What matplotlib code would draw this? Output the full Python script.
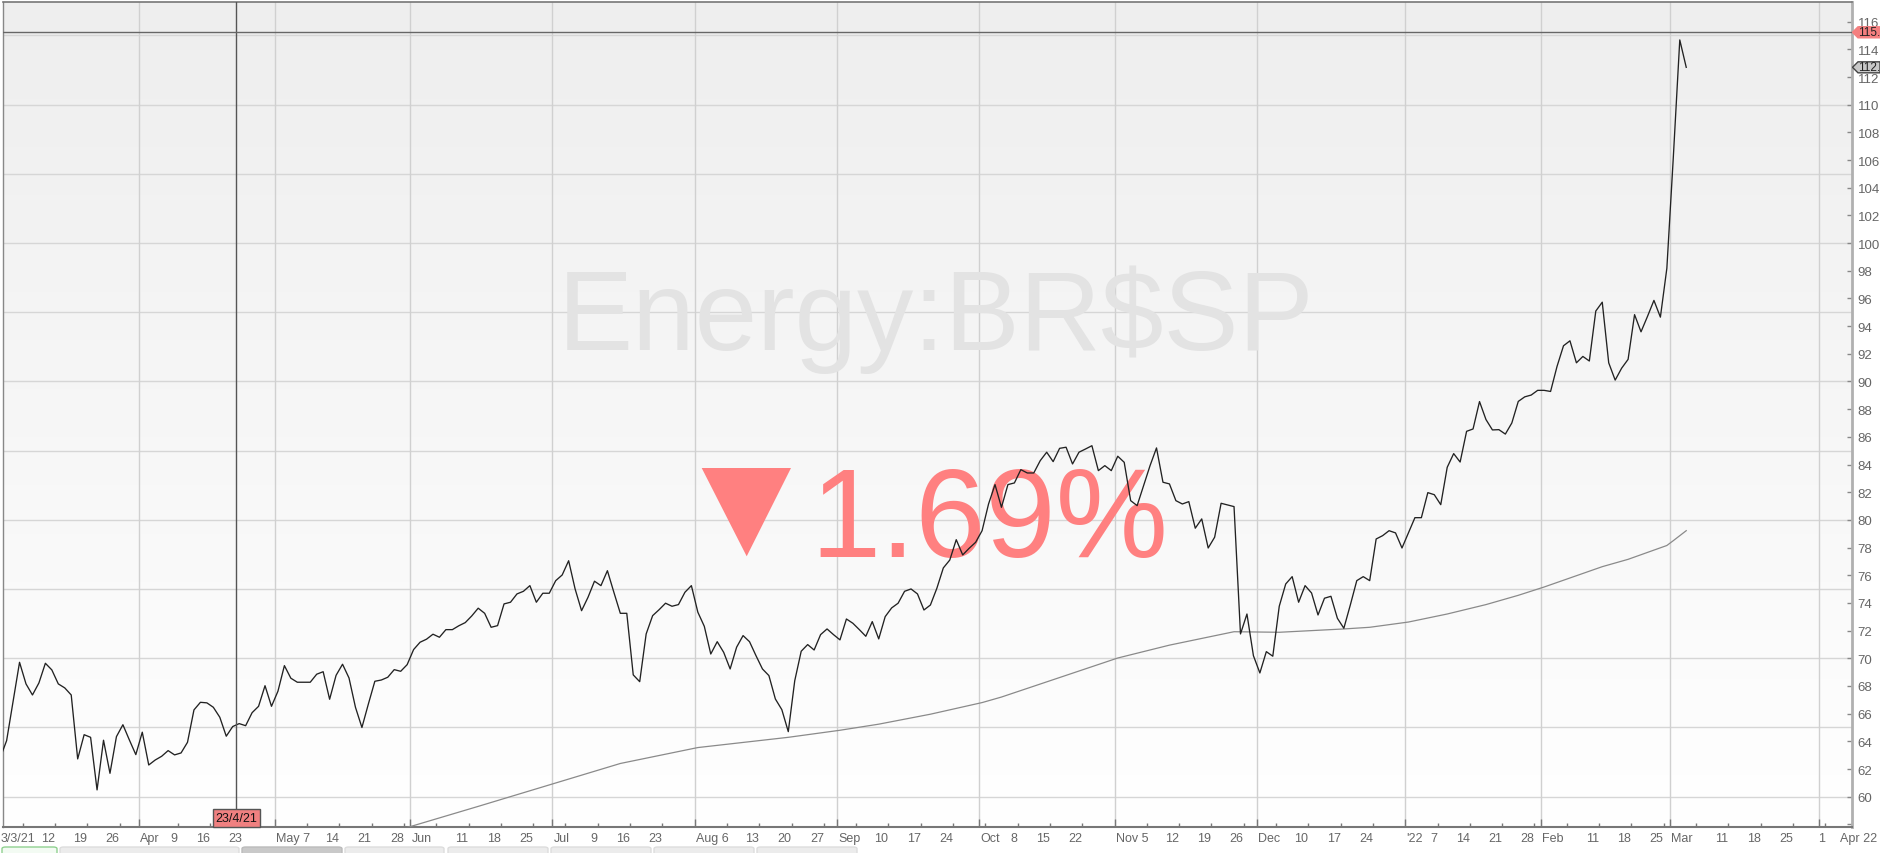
import matplotlib
matplotlib.use("Agg")
import matplotlib.pyplot as plt
import matplotlib.transforms as mtransforms
from matplotlib.colors import LinearSegmentedColormap
from matplotlib.patches import Polygon, FancyBboxPatch
from matplotlib import font_manager
import numpy as np
import pandas as pd

# daily closes, one per trading day, 2 Mar 2021 .. 3 Mar 2022
close = [
    62.8, 64.05, 66.9, 69.71, 68.15, 67.35, 68.22, 69.64, 69.16, 68.15,
    67.86, 67.35, 62.73, 64.48, 64.29, 60.49, 64.08, 61.69, 64.34, 65.2,
    64.1, 63.04, 64.66, 62.29, 62.65, 62.92, 63.33, 63.02, 63.16, 63.93,
    66.27, 66.82, 66.78, 66.46, 65.74, 64.37, 65.07, 65.28, 65.13, 66.07,
    66.53, 68.02, 66.53, 67.62, 69.47, 68.56, 68.27, 68.27, 68.27, 68.85,
    69.03, 67.04, 68.77, 69.57, 68.58, 66.46, 65.0, 66.7, 68.34, 68.43,
    68.63, 69.18, 69.06, 69.54, 70.63, 71.16, 71.38, 71.74, 71.52, 72.07,
    72.07, 72.35, 72.58, 73.06, 73.62, 73.25, 72.24, 72.36, 73.93, 74.05,
    74.65, 74.84, 75.25, 74.05, 74.7, 74.7, 75.61, 76.02, 77.05, 75.01,
    73.44, 74.41, 75.57, 75.25, 76.33, 74.77, 73.25, 73.25, 68.8, 68.31,
    71.76, 73.08, 73.51, 73.98, 73.76, 73.88, 74.77, 75.25, 73.33, 72.31,
    70.31, 71.2, 70.43, 69.23, 70.8, 71.64, 71.2, 70.19, 69.23, 68.75,
    67.06, 66.29, 64.7, 68.38, 70.51, 70.99, 70.6, 71.71, 72.12, 71.71,
    71.33, 72.84, 72.53, 72.07, 71.59, 72.65, 71.4, 73.01, 73.64, 73.98,
    74.84, 75.01, 74.65, 73.49, 73.85, 75.06, 76.53, 77.1, 78.57, 77.47,
    77.95, 78.38, 79.22, 81.15, 82.55, 80.91, 82.55, 82.67, 83.63, 83.39,
    83.39, 84.28, 84.89, 84.21, 85.17, 85.25, 84.04, 84.89, 85.12, 85.36,
    83.56, 83.92, 83.56, 84.6, 84.16, 81.39, 81.03, 82.47, 83.92, 85.2,
    82.72, 82.6, 81.39, 81.15, 81.32, 79.4, 80.07, 77.97, 78.75, 81.2,
    81.08, 80.96, 71.76, 73.2, 70.19, 68.94, 70.48, 70.15, 73.76, 75.37,
    75.9, 74.05, 75.25, 74.72, 73.13, 74.34, 74.48, 72.89, 72.17, 73.85,
    75.61, 75.9, 75.61, 78.62, 78.86, 79.22, 79.06, 77.97, 79.06, 80.16,
    80.16, 81.97, 81.82, 81.1, 83.8, 84.79, 84.18, 86.4, 86.57, 88.55,
    87.25, 86.5, 86.52, 86.2, 87.0, 88.56, 88.89, 89.02, 89.36, 89.36,
    89.28, 91.09, 92.58, 92.94, 91.35, 91.81, 91.48, 95.09, 95.73, 91.35,
    90.1, 90.96, 91.6, 94.83, 93.59, 94.7, 95.86, 94.65, 98.18, 106.2,
    114.68, 112.7,
]

# long moving average, read at a handful of dates
ma_dates = ["2021-05-20", "2021-06-15", "2021-06-30", "2021-07-15", "2021-08-02",
            "2021-08-20", "2021-09-01", "2021-09-09", "2021-09-21", "2021-10-01",
            "2021-10-06", "2021-11-01", "2021-11-11", "2021-11-25", "2021-12-06",
            "2021-12-20", "2021-12-24", "2022-01-03", "2022-01-11", "2022-01-19",
            "2022-01-26", "2022-02-01", "2022-02-14", "2022-02-18", "2022-02-28",
            "2022-03-01", "2022-03-03"]
ma_vals = [56.8, 59.3, 60.85, 62.4, 63.55, 64.29, 64.8, 65.24, 65.96, 66.8,
           67.2, 70.02, 70.95, 71.92, 71.88, 72.12, 72.24, 72.62, 73.2, 73.88,
           74.55, 75.15, 76.62, 77.15, 78.15, 78.5, 79.22]

month_keys = ["2021-04", "2021-05", "2021-06", "2021-07", "2021-08", "2021-09",
              "2021-10", "2021-11", "2021-12", "2022-01", "2022-02", "2022-03", "2022-04"]
month_names = ["Apr", "May 7", "Jun", "Jul", "Aug 6", "Sep", "Oct", "Nov 5",
               "Dec", "'22", "Feb", "Mar", ""]
skip_fridays = ["2021-03-05", "2021-04-30", "2021-05-07", "2021-06-04", "2021-07-02",
                "2021-07-30", "2021-08-06", "2021-09-03", "2021-10-01", "2021-10-29",
                "2021-11-05", "2021-12-03", "2021-12-31", "2022-02-04", "2022-03-04"]
first_label = "3/3/21"
end_label = "Apr 22"

y_ticks = list(range(58, 117, 2))
grid_vals = list(range(60, 116, 5))

cross_date = "2021-04-23"
cross_label = "23/4/21"
cross_value = 115.23
title = "Energy:BR\\$SP"
change = "1.69%"

names = {f.name for f in font_manager.fontManager.ttflist}
has_narrow = "Liberation Sans Narrow" in names
narrow = "Liberation Sans Narrow" if has_narrow else "Liberation Sans"
small = 9.5 if has_narrow else 9
plt.rcParams["font.family"] = ["Liberation Sans", "DejaVu Sans"]

# trading calendar (weekdays, Good Friday 2021 off)
days = pd.bdate_range("2021-03-02", "2022-04-29")
days = days[days != pd.Timestamp("2021-04-02")]
pos = pd.Series(np.arange(len(days)), index=days)

W, H = 1880, 854
fig = plt.figure(figsize=(W / 100, H / 100), dpi=100)
ax = fig.add_axes([3 / W, 26 / H, 1849 / W, 825 / H])
xlim = (0.44, 286.66)
ylim = (57.81, 117.42)

grad = LinearSegmentedColormap.from_list("bg", ["#ffffff", "#eeeeee"])
ax.imshow(np.linspace(0, 1, 256).reshape(-1, 1), cmap=grad, aspect="auto",
          origin="lower", extent=[xlim[0], xlim[1], ylim[0], ylim[1]], zorder=0)

month_x = [pos[days[days.strftime("%Y-%m") == m][0]] - 0.5 for m in month_keys]
for v in grid_vals:
    ax.axhline(v, color="#d6d6d6", lw=1, zorder=1)
for mx in month_x:
    ax.axvline(mx, color="#d0d0d0", lw=1, zorder=1)

if has_narrow:
    ax.text(936 / W, 1 - 352 / H, title, transform=fig.transFigure, ha="center",
            va="baseline", fontsize=95, family=narrow, color="#e3e3e3", zorder=1)
else:
    ax.text(936 / W, 1 - 350 / H, title, transform=fig.transFigure, ha="center",
            va="baseline", fontsize=81, color="#e3e3e3", zorder=1)

ma_x = [pos[pd.Timestamp(d)] for d in ma_dates]
ax.plot(ma_x, ma_vals, color="#8a8a8a", lw=0.9, zorder=3)
ax.plot(np.arange(len(close)), close, color="#222222", lw=0.95, zorder=4)

# change badge
tri = Polygon([(701.7 / W, 1 - 469 / H), (791 / W, 1 - 469 / H), (746.7 / W, 1 - 557.3 / H)],
              closed=True, transform=fig.transFigure, fc="#ff8080", ec="none", zorder=2)
ax.add_patch(tri)
ax.text(810 / W, 1 - 556.7 / H, change, transform=fig.transFigure, ha="left",
        va="baseline", fontsize=91, color="#ff8080", zorder=2)

# crosshair
cx = pos[pd.Timestamp(cross_date)] - 0.45
ax.axvline(cx, color="#555555", lw=1, zorder=5)
ax.axhline(cross_value, color="#666666", lw=1, zorder=5)
ax.text(cx, 58.46, cross_label, ha="center", va="center", fontsize=small, family=narrow,
        color="#111111", zorder=6,
        bbox=dict(boxstyle="square,pad=0.22", fc="#f08080", ec="#555555", lw=1))

ax.set_xlim(*xlim)
ax.set_ylim(*ylim)

# right price tags
blend = mtransforms.blended_transform_factory(fig.transFigure, ax.transData)
def tag(v, fc, ec, label):
    h = 5.5 / 13.84
    pts = [(1852.5 / W, v), (1858 / W, v + h), (1.0, v + h), (1.0, v - h), (1858 / W, v - h)]
    ax.add_patch(Polygon(pts, closed=True, transform=blend, fc=fc, ec=ec, lw=1,
                         clip_on=False, zorder=7))
    ax.text(1858.5 / W, v, label, transform=blend, ha="left", va="center",
            fontsize=8.5, color="#222222", clip_on=False, zorder=8)

tag(cross_value, "#f47f7f", "#f47f7f", f"{cross_value:.2f}"[:4])
tag(close[-1], "#c8c8c8", "#444444", f"{close[-1]:.2f}"[:4])

# spines
for side, col, lw in [("left", "#888888", 1), ("top", "#777777", 1.2),
                      ("right", "#b0b0b0", 2), ("bottom", "#777777", 1.5)]:
    ax.spines[side].set_color(col)
    ax.spines[side].set_linewidth(lw)

# y axis on the right
ax.yaxis.tick_right()
ax.set_yticks(y_ticks)
ax.set_yticklabels(["" if t == 58 else str(t) for t in y_ticks])
ax.tick_params(axis="y", direction="in", length=3.5, width=1, color="#888888",
               pad=4, labelsize=9.5, labelcolor="#666666")

# time axis: month ticks and friday ticks
fridays = days[(days.dayofweek == 4) & (days <= pd.Timestamp("2022-04-01"))]
fri_x = [pos[d] + 0.5 for d in fridays]
ax.set_xticks(month_x)
ax.set_xticks(fri_x, minor=True)
ax.set_xticklabels([])
ax.tick_params(axis="x", which="major", direction="in", length=6, width=1, color="#777777")
ax.tick_params(axis="x", which="minor", direction="in", length=3, width=1, color="#777777")

xt = ax.get_xaxis_transform()
ly = -11 / 825
lab = dict(transform=xt, va="center", fontsize=small, family=narrow, color="#666666", clip_on=False)
skip = set(pd.to_datetime(skip_fridays))
for d, fx in zip(fridays, fri_x):
    if d in skip:
        continue
    ax.text(fx, ly, str(d.day), ha="right", **lab)
for mx, name in zip(month_x, month_names):
    if name:
        ax.text(mx + 0.2, ly, name, ha="left", **lab)
ax.text(xlim[0] - 0.3, ly, first_label, ha="left", **lab)
ax.text(284.8, ly, end_label, ha="left", **lab)

# toolbar stubs along the bottom edge
buttons = [(2, 57, "#f3fbf3", "#8fd18f"), (60, 239, "#ececec", "#dddddd"),
           (242, 342, "#c9c9c9", "#bbbbbb"), (345, 444, "#ececec", "#dddddd"),
           (448, 548, "#ececec", "#dddddd"), (551, 651, "#ececec", "#dddddd"),
           (654, 754, "#ececec", "#dddddd"), (757, 857, "#ececec", "#dddddd")]
for x0, x1, fc, ec in buttons:
    fig.add_artist(FancyBboxPatch((x0 / W, -8 / H), (x1 - x0) / W, 14 / H,
                                  boxstyle="round,pad=0,rounding_size=0.002",
                                  transform=fig.transFigure, fc=fc, ec=ec, lw=1))

fig.savefig("out.png", dpi=100)
